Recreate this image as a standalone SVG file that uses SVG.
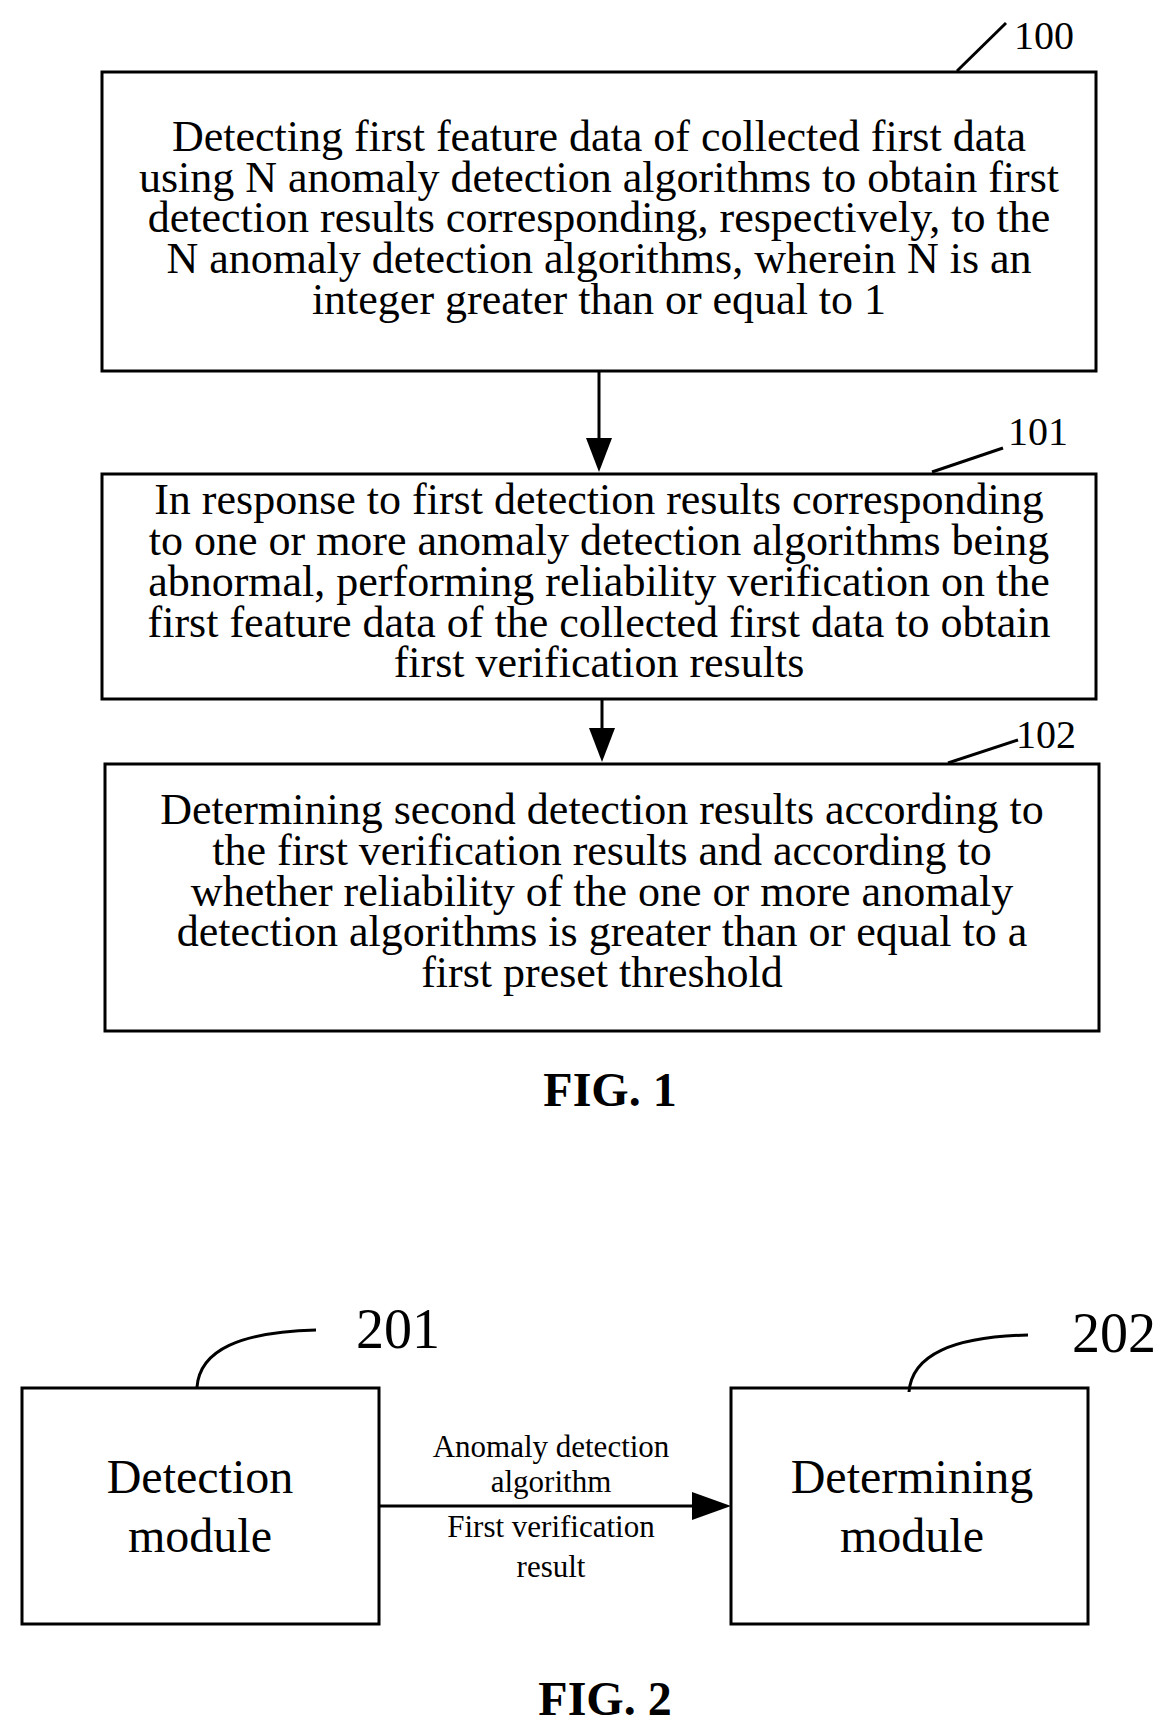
<svg xmlns="http://www.w3.org/2000/svg" width="1176" height="1736" viewBox="0 0 1176 1736">
<style>
.box{fill:#fff;stroke:#000;stroke-width:3}
.ln{fill:none;stroke:#000;stroke-width:3}
.t{font-family:"Liberation Serif",serif;font-size:44px;text-anchor:middle;fill:#000}
.n{font-family:"Liberation Serif",serif;font-size:40px;fill:#000}
.f{font-family:"Liberation Serif",serif;font-size:48px;font-weight:bold;text-anchor:middle;fill:#000}
.m{font-family:"Liberation Serif",serif;font-size:48px;text-anchor:middle;fill:#000}
.s{font-family:"Liberation Serif",serif;font-size:31px;text-anchor:middle;fill:#000}
</style>
<rect width="1176" height="1736" fill="#fff"/>
<g id="n100">
<rect class="box" x="102" y="72" width="994" height="299"/>
<text class="t" x="599" y="151">Detecting first feature data of collected first data</text>
<text class="t" x="599" y="192">using N anomaly detection algorithms to obtain first</text>
<text class="t" x="599" y="232">detection results corresponding, respectively, to the</text>
<text class="t" x="599" y="273">N anomaly detection algorithms, wherein N is an</text>
<text class="t" x="599" y="314">integer greater than or equal to 1</text>
<line class="ln" x1="957" y1="71" x2="1006" y2="23"/>
<text class="n" x="1014" y="49">100</text>
</g>
<g id="n101">
<rect class="box" x="102" y="474" width="994" height="225"/>
<text class="t" x="599" y="514">In response to first detection results corresponding</text>
<text class="t" x="599" y="555">to one or more anomaly detection algorithms being</text>
<text class="t" x="599" y="596">abnormal, performing reliability verification on the</text>
<text class="t" x="599" y="637">first feature data of the collected first data to obtain</text>
<text class="t" x="599" y="677">first verification results</text>
<line class="ln" x1="932" y1="472" x2="1003" y2="448"/>
<text class="n" x="1008" y="445">101</text>
</g>
<g id="n102">
<rect class="box" x="105" y="764" width="994" height="267"/>
<text class="t" x="602" y="824">Determining second detection results according to</text>
<text class="t" x="602" y="865">the first verification results and according to</text>
<text class="t" x="602" y="906">whether reliability of the one or more anomaly</text>
<text class="t" x="602" y="946">detection algorithms is greater than or equal to a</text>
<text class="t" x="602" y="987">first preset threshold</text>
<line class="ln" x1="948" y1="763" x2="1018" y2="740"/>
<text class="n" x="1016" y="748">102</text>
</g>
<text class="f" x="610" y="1106">FIG. 1</text>
<g id="n201">
<rect class="box" x="22" y="1388" width="357" height="236"/>
<text class="m" x="200" y="1493">Detection</text>
<text class="m" x="200" y="1552">module</text>
<path class="ln" d="M197,1387 C200,1350 240,1332 316,1330"/>
<text class="n" x="356" y="1348" style="font-size:56px">201</text>
</g>
<g id="n202">
<rect class="box" x="731" y="1388" width="357" height="236"/>
<text class="m" x="912" y="1493">Determining</text>
<text class="m" x="912" y="1552">module</text>
<path class="ln" d="M909,1392 C912,1355 952,1337 1028,1335"/>
<text class="n" x="1072" y="1352" style="font-size:56px">202</text>
</g>
<g id="connectors">
<line class="ln" x1="599" y1="371" x2="599" y2="440"/>
<path d="M586,438 L612,438 L599,472 z"/>
<line class="ln" x1="602" y1="699" x2="602" y2="730"/>
<path d="M589,728 L615,728 L602,762 z"/>
<line class="ln" x1="379" y1="1506" x2="700" y2="1506"/>
<path d="M692,1492 L731,1506 L692,1520 z"/>
<text class="s" x="551" y="1457">Anomaly detection</text>
<text class="s" x="551" y="1492">algorithm</text>
<text class="s" x="551" y="1537">First verification</text>
<text class="s" x="551" y="1577">result</text>
</g>
<text class="f" x="605" y="1715">FIG. 2</text>
</svg>
